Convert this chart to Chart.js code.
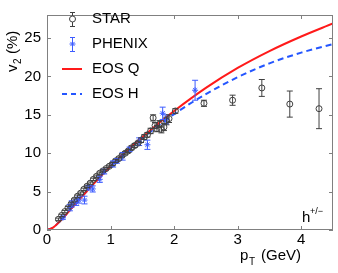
<!DOCTYPE html>
<html lang="en">
<head>
<meta charset="UTF-8">
<title>v2 vs pT</title>
<script src="https://cdn.jsdelivr.net/npm/chart.js@4/dist/chart.umd.min.js"></script>
<style>
html, body { margin: 0; padding: 0; background: #fff; }
#wrap { width: 338px; height: 273px; }
</style>
</head>
<body>
<div id="wrap"><canvas id="myChart" width="338" height="273"></canvas></div>
<script>
// STAR h+/- data
const starPt  = [0.18, 0.23, 0.28, 0.33, 0.38, 0.43, 0.48, 0.53, 0.58, 0.63, 0.68, 0.73, 0.78, 0.83, 0.88, 0.93, 0.98, 1.03, 1.08, 1.13, 1.18, 1.23, 1.28, 1.33, 1.38, 1.43, 1.48, 1.53, 1.58, 1.63, 1.67, 1.70, 1.73, 1.77, 1.80, 1.84, 1.88, 1.92, 2.02, 2.47, 2.92, 3.38, 3.82, 4.28];
const starV2  = [1.4, 1.9, 2.4, 2.9, 3.4, 3.9, 4.4, 4.8, 5.3, 5.7, 6.1, 6.6, 7.0, 7.4, 7.7, 8.0, 8.3, 8.6, 9.0, 9.3, 9.7, 10.0, 10.3, 10.7, 11.0, 11.3, 11.7, 12.1, 12.4, 12.9, 14.6, 13.6, 13.2, 13.8, 13.1, 13.4, 14.2, 14.5, 15.5, 16.5, 16.9, 18.5, 16.4, 15.8];
const starErr = [0.15, 0.15, 0.15, 0.15, 0.15, 0.15, 0.15, 0.15, 0.15, 0.15, 0.15, 0.15, 0.15, 0.15, 0.15, 0.15, 0.15, 0.2, 0.2, 0.2, 0.2, 0.2, 0.2, 0.25, 0.25, 0.25, 0.3, 0.3, 0.3, 0.35, 0.4, 0.4, 0.4, 0.45, 0.45, 0.45, 0.5, 0.5, 0.3, 0.4, 0.66, 1.1, 1.7, 2.6];

// PHENIX data
const phenixPt  = [0.25, 0.36, 0.39, 0.46, 0.50, 0.59, 0.65, 0.72, 0.83, 0.90, 1.04, 1.10, 1.19, 1.30, 1.45, 1.58, 1.82, 1.87, 2.33];
const phenixV2  = [1.6, 2.9, 3.4, 3.6, 3.9, 3.9, 5.5, 5.35, 6.6, 7.6, 8.6, 9.0, 9.6, 10.5, 11.5, 11.1, 15.2, 14.4, 18.2];
const phenixErr = [0.2, 0.4, 0.4, 0.4, 0.4, 0.5, 0.3, 0.4, 0.4, 0.3, 0.4, 0.3, 0.5, 0.3, 0.5, 0.6, 0.8, 0.6, 1.3];

// hydro curves
const eosQPt = [0, 0.1, 0.2, 0.3, 0.4, 0.6, 0.8, 1.0, 1.2, 1.4, 1.6, 1.8, 2.0, 2.5, 3.0, 3.5, 4.0, 4.5];
const eosQV2 = [0, 0.35, 1.1, 2.0, 2.95, 4.8, 6.6, 8.3, 9.9, 11.4, 12.8, 14.2, 15.5, 18.5, 21.1, 23.3, 25.2, 26.9];
const eosHPt = [0, 0.1, 0.2, 0.3, 0.4, 0.6, 0.8, 1.0, 1.2, 1.4, 1.6, 1.8, 2.0, 2.5, 3.0, 3.5, 4.0, 4.5];
const eosHV2 = [0, 0.35, 1.1, 2.0, 2.95, 4.8, 6.6, 8.3, 9.9, 11.3, 12.6, 13.9, 15.1, 17.7, 19.9, 21.7, 23.1, 24.2];

const xTicks = [0, 1, 2, 3, 4];
const yTicks = [0, 5, 10, 15, 20, 25];

const STAR_COL = '#404040';
const PHENIX_COL = '#3d5cff';
const Q_COL = '#ff1a1a';
const H_COL = '#2456ff';
const FONT = '"Liberation Sans", Arial, sans-serif';

const pts = (xs, ys) => xs.map((x, i) => ({ x: x, y: ys[i] }));

// vertical error bars with caps
const errorBars = {
    id: 'errorBars',
    afterDatasetsDraw(chart) {
        const ctx = chart.ctx, xs = chart.scales.x, ys = chart.scales.y;
        ctx.save();
        chart.data.datasets.forEach(ds => {
            if (!ds.err) return;
            ctx.strokeStyle = ds.borderColor;
            ctx.lineWidth = 1;
            ds.data.forEach((p, i) => {
                const px = xs.getPixelForValue(p.x);
                const y1 = ys.getPixelForValue(p.y - ds.err[i]);
                const y2 = ys.getPixelForValue(p.y + ds.err[i]);
                ctx.beginPath();
                ctx.moveTo(px, y1); ctx.lineTo(px, y2);
                ctx.moveTo(px - 3, y1); ctx.lineTo(px + 3, y1);
                ctx.moveTo(px - 3, y2); ctx.lineTo(px + 3, y2);
                ctx.stroke();
            });
        });
        ctx.restore();
    }
};

// box, inward ticks, titles, legend
const frame = {
    id: 'frame',
    afterDraw(chart) {
        const ctx = chart.ctx, a = chart.chartArea, xs = chart.scales.x, ys = chart.scales.y;
        ctx.save();
        ctx.strokeStyle = '#808080';
        ctx.lineWidth = 1;
        ctx.strokeRect(Math.round(a.left) + 0.5, Math.round(a.top) + 0.5, Math.round(a.right - a.left) - 1, Math.round(a.bottom - a.top) - 1);
        ctx.beginPath();
        xTicks.forEach(t => {
            const px = Math.round(xs.getPixelForValue(t)) + 0.5;
            ctx.moveTo(px, a.bottom); ctx.lineTo(px, a.bottom - 4);
            ctx.moveTo(px, a.top); ctx.lineTo(px, a.top + 4);
        });
        yTicks.forEach(t => {
            const py = Math.round(ys.getPixelForValue(t)) + 0.5;
            ctx.moveTo(a.left, py); ctx.lineTo(a.left + 4, py);
            ctx.moveTo(a.right, py); ctx.lineTo(a.right - 4, py);
        });
        ctx.stroke();

        ctx.fillStyle = '#000';
        ctx.textBaseline = 'alphabetic';
        // x title
        ctx.font = '15px ' + FONT;
        ctx.fillText('p', 240, 260);
        ctx.font = '10px ' + FONT;
        ctx.fillText('T', 249, 265);
        ctx.font = '15px ' + FONT;
        ctx.fillText('(GeV)', 261, 260);
        // label h+/-
        ctx.fillText('h', 302, 222);
        ctx.font = '9px ' + FONT;
        ctx.fillText('+/\u2212', 310, 214);
        // y title
        ctx.save();
        ctx.translate(17, 72);
        ctx.rotate(-Math.PI / 2);
        ctx.font = '15px ' + FONT;
        ctx.fillText('v', 0, 0);
        ctx.font = '10px ' + FONT;
        ctx.fillText('2', 8, 4);
        ctx.font = '15px ' + FONT;
        ctx.fillText('(%)', 18, 0);
        ctx.restore();

        // legend
        ctx.font = '15px ' + FONT;
        ctx.textBaseline = 'middle';
        const names = ['STAR', 'PHENIX', 'EOS Q', 'EOS H'];
        const rowY = [19, 44, 69, 94];
        names.forEach((n, i) => { ctx.fillText(n, 92, rowY[i]); });
        // STAR symbol
        ctx.strokeStyle = STAR_COL;
        ctx.beginPath();
        ctx.moveTo(72.5, 12); ctx.lineTo(72.5, 27);
        ctx.moveTo(70, 12.5); ctx.lineTo(75, 12.5);
        ctx.moveTo(70, 26.5); ctx.lineTo(75, 26.5);
        ctx.stroke();
        ctx.fillStyle = '#fff';
        ctx.beginPath(); ctx.arc(72.5, 19, 3, 0, Math.PI * 2); ctx.fill(); ctx.stroke();
        // PHENIX symbol
        ctx.strokeStyle = PHENIX_COL;
        ctx.beginPath();
        ctx.moveTo(72.5, 37); ctx.lineTo(72.5, 52);
        ctx.moveTo(70, 37.5); ctx.lineTo(75, 37.5);
        ctx.moveTo(70, 51.5); ctx.lineTo(75, 51.5);
        ctx.moveTo(69.5, 44); ctx.lineTo(75.5, 44);
        ctx.moveTo(70.4, 41.9); ctx.lineTo(74.6, 46.1);
        ctx.moveTo(70.4, 46.1); ctx.lineTo(74.6, 41.9);
        ctx.stroke();
        // EOS Q
        ctx.strokeStyle = Q_COL; ctx.lineWidth = 2;
        ctx.beginPath(); ctx.moveTo(62, 69); ctx.lineTo(82, 69); ctx.stroke();
        // EOS H
        ctx.strokeStyle = H_COL;
        ctx.setLineDash([5, 4]);
        ctx.beginPath(); ctx.moveTo(62, 94); ctx.lineTo(82, 94); ctx.stroke();
        ctx.restore();
    }
};

new Chart(document.getElementById('myChart'), {
    type: 'scatter',
    data: {
        datasets: [{
            label: 'EOS H',
            data: pts(eosHPt, eosHV2),
            showLine: true,
            borderColor: H_COL,
            borderWidth: 2,
            borderDash: [6, 4],
            pointRadius: 0,
            cubicInterpolationMode: 'monotone',
            order: 3
        }, {
            label: 'EOS Q',
            data: pts(eosQPt, eosQV2),
            showLine: true,
            borderColor: Q_COL,
            borderWidth: 2,
            pointRadius: 0,
            cubicInterpolationMode: 'monotone',
            order: 2
        }, {
            label: 'PHENIX',
            data: pts(phenixPt, phenixV2),
            err: phenixErr,
            borderColor: PHENIX_COL,
            backgroundColor: PHENIX_COL,
            pointStyle: 'star',
            pointRadius: 3,
            pointBorderWidth: 1,
            order: 1
        }, {
            label: 'STAR',
            data: pts(starPt, starV2),
            err: starErr,
            borderColor: STAR_COL,
            backgroundColor: 'rgba(0,0,0,0)',
            pointStyle: 'circle',
            pointRadius: 3,
            pointBorderWidth: 1,
            order: 0
        }]
    },
    options: {
        responsive: false,
        animation: false,
        layout: { padding: { top: 3, right: 3, left: 0, bottom: 0 } },
        plugins: { legend: { display: false }, tooltip: { enabled: false } },
        scales: {
            x: {
                type: 'linear', min: 0, max: 4.5,
                afterFit: s => { s.height = 43; },
                afterBuildTicks: s => { s.ticks = xTicks.map(v => ({ value: v })); },
                grid: { display: false, drawTicks: false },
                border: { display: false },
                ticks: { color: '#000', padding: 1, font: { family: FONT, size: 15 } }
            },
            y: {
                type: 'linear', min: 0, max: 28,
                afterFit: s => { s.width = 47; },
                afterBuildTicks: s => { s.ticks = yTicks.map(v => ({ value: v })); },
                grid: { display: false, drawTicks: false },
                border: { display: false },
                ticks: { color: '#000', padding: 6, font: { family: FONT, size: 15 } }
            }
        }
    },
    plugins: [errorBars, frame]
});
</script>
</body>
</html>
